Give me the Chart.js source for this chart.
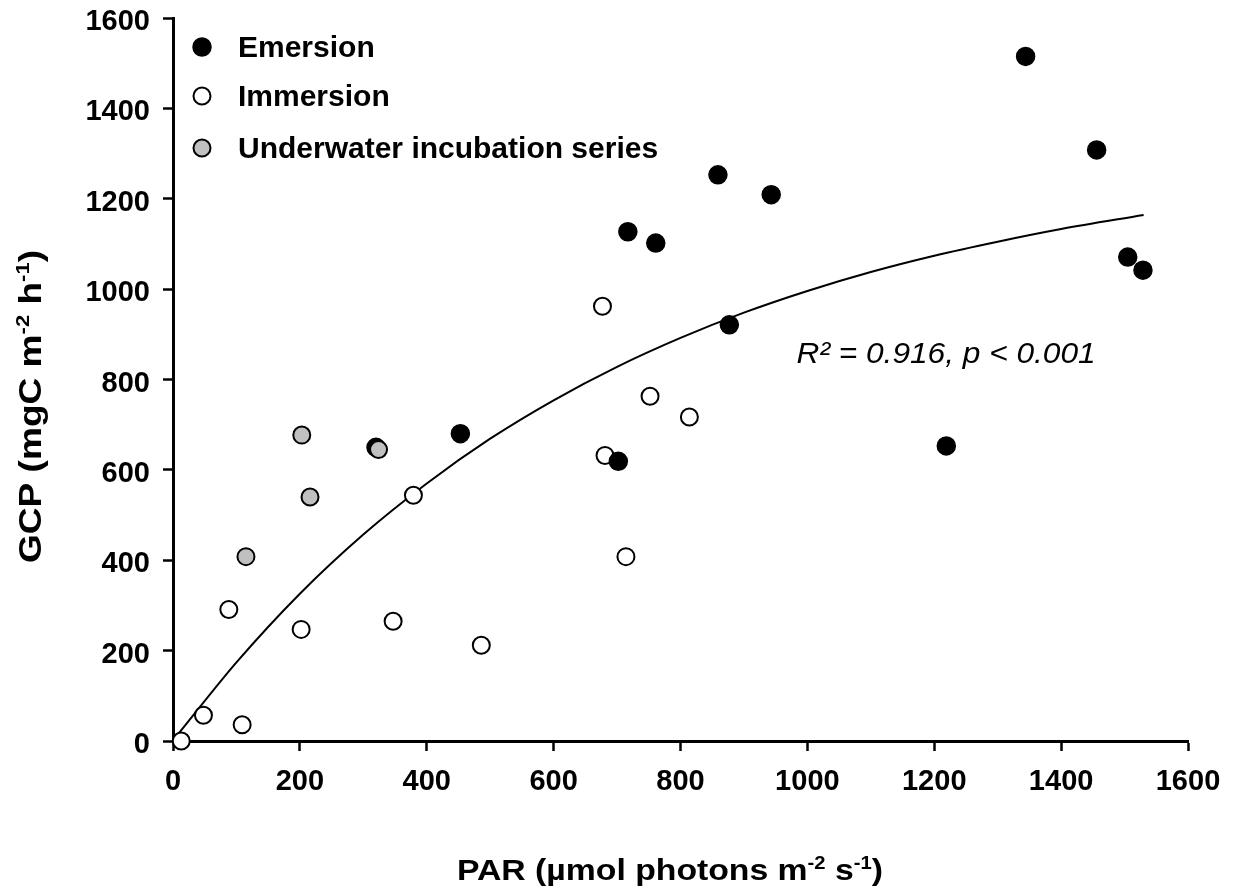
<!DOCTYPE html>
<html>
<head>
<meta charset="utf-8">
<script src="https://cdn.jsdelivr.net/npm/chart.js@4.4.1/dist/chart.umd.min.js"></script>
<style>
  html, body { margin: 0; padding: 0; background: #fff; }
  #wrap { width: 1234px; height: 888px; }
</style>
</head>
<body>
<div id="wrap"><canvas id="gcpChart" width="1234" height="888"></canvas></div>
<script>
// values
const emersionPar = [320, 453, 702, 717, 761, 859, 877, 943, 1219, 1344, 1456, 1505, 1529];
const emersionGcp = [650, 680, 619, 1127, 1102, 1253, 921, 1209, 653, 1515, 1308, 1071, 1042];
const immersionPar = [13, 48, 88, 109, 202, 347, 379, 486, 677, 681, 714, 752, 814];
const immersionGcp = [0, 57, 291, 36, 247, 265, 544, 212, 962, 632, 408, 763, 717];
const underwaterPar = [115, 203, 216, 324];
const underwaterGcp = [408, 677, 540, 645];
// fitted curve
const fitPar = [8, 100, 200, 300, 400, 500, 600, 700, 800, 900, 1000, 1100, 1200, 1300, 1400, 1530];
const fitGcp = [15, 174, 326, 457, 570, 669, 754, 828, 892, 948, 996, 1038, 1074, 1105, 1133, 1164];
const axisMin = 0, axisMax = 1600, axisStep = 200;
const seriesNames = ['Emersion', 'Immersion', 'Underwater incubation series'];
const fitLabel = 'R\u00B2 = 0.916, p < 0.001';
const fitLabelAt = [983, 837];

const FONT = "'Liberation Sans', Arial, sans-serif";

const toPoints = (xs, ys) => xs.map((x, i) => ({ x: x, y: ys[i] }));

// text with superscripts: parts = [[text, isSup], ...]
function setFont(ctx, style, size, sup) {
  ctx.font = style + ' ' + (sup ? Math.round(size * 0.6) : size) + 'px ' + FONT;
}
function richWidth(ctx, parts, style, size) {
  let w = 0;
  parts.forEach(([t, sup]) => {
    setFont(ctx, style, size, sup);
    w += ctx.measureText(t).width;
  });
  return w;
}
// draws parts starting at x0, squeezed/stretched to span the given length
function drawRich(ctx, parts, style, size, x0, baseY, span) {
  const w = richWidth(ctx, parts, style, size);
  ctx.save();
  ctx.translate(x0, baseY);
  ctx.scale(span / w, 1);
  ctx.textAlign = 'left';
  ctx.textBaseline = 'alphabetic';
  let x = 0;
  parts.forEach(([t, sup]) => {
    setFont(ctx, style, size, sup);
    ctx.fillText(t, x, sup ? -size * 0.38 : 0);
    x += ctx.measureText(t).width;
  });
  ctx.restore();
}

const extrasPlugin = {
  id: 'extras',
  afterDraw(chart) {
    const { ctx, chartArea, scales } = chart;
    ctx.save();
    ctx.fillStyle = '#000';

    // axis titles
    drawRich(ctx, [['PAR (\u00B5mol photons m', 0], ['-2', 1], [' s', 0], ['-1', 1], [')', 0]], 'bold', 30, 457, 880, 426);
    ctx.save();
    ctx.translate(41, 563);
    ctx.rotate(-Math.PI / 2);
    drawRich(ctx, [['GCP (mgC m', 0], ['-2', 1], [' h', 0], ['-1', 1], [')', 0]], 'bold', 32, 0, 0, 313);
    ctx.restore();

    // fit statistics
    drawRich(ctx, [[fitLabel, 0]], 'italic', 30,
      scales.x.getPixelForValue(fitLabelAt[0]), scales.y.getPixelForValue(fitLabelAt[1]), 299);

    // legend in upper left corner
    const rows = [29, 78, 130];
    for (let i = 0; i < 3; i++) {
      const ds = chart.data.datasets[i];
      const y = chartArea.top + rows[i];
      const x = chartArea.left + 29;
      ctx.beginPath();
      ctx.arc(x, y, ds.pointRadius, 0, Math.PI * 2);
      ctx.fillStyle = ds.backgroundColor;
      ctx.fill();
      ctx.lineWidth = ds.borderWidth;
      ctx.strokeStyle = ds.borderColor;
      ctx.stroke();
      ctx.fillStyle = '#000';
      ctx.font = 'bold 30px ' + FONT;
      ctx.textAlign = 'left';
      ctx.textBaseline = 'middle';
      ctx.fillText(ds.label, chartArea.left + 65, y + 2);
    }
    ctx.restore();
  }
};

const tickFont = { family: FONT, size: 29, weight: 'bold', lineHeight: 1.2 };

const axisCommon = {
  type: 'linear',
  min: axisMin,
  max: axisMax,
  grid: { drawOnChartArea: false, drawTicks: true, tickLength: 10, tickWidth: 2.5, tickColor: '#000' },
  border: { display: true, color: '#000', width: 3 },
  title: { display: false }
};

new Chart(document.getElementById('gcpChart'), {
  type: 'scatter',
  data: {
    datasets: [
      {
        label: seriesNames[0],
        data: toPoints(emersionPar, emersionGcp),
        backgroundColor: '#000', borderColor: '#000', borderWidth: 1.5,
        pointRadius: 9, order: 2, clip: false
      },
      {
        label: seriesNames[1],
        data: toPoints(immersionPar, immersionGcp),
        backgroundColor: '#fff', borderColor: '#000', borderWidth: 2,
        pointRadius: 8.5, order: 3, clip: false
      },
      {
        label: seriesNames[2],
        data: toPoints(underwaterPar, underwaterGcp),
        backgroundColor: '#c0c0c0', borderColor: '#000', borderWidth: 2,
        pointRadius: 8.5, order: 1, clip: false
      },
      {
        label: 'fit',
        type: 'line',
        data: toPoints(fitPar, fitGcp),
        borderColor: '#000', borderWidth: 2, pointRadius: 0,
        cubicInterpolationMode: 'monotone', fill: false, order: 4, clip: false
      }
    ]
  },
  options: {
    responsive: false,
    animation: false,
    layout: { padding: { top: 18, right: 46, left: 0, bottom: 0 } },
    plugins: { legend: { display: false }, tooltip: { enabled: false } },
    scales: {
      x: Object.assign({}, axisCommon, {
        position: 'bottom',
        ticks: { stepSize: axisStep, color: '#000', padding: 14, font: tickFont, callback: (v) => String(v) },
        afterFit: (s) => { s.height = 147; s.paddingLeft = 0; s.paddingRight = 0; }
      }),
      y: Object.assign({}, axisCommon, {
        position: 'left',
        ticks: { stepSize: axisStep, color: '#000', padding: 13, labelOffset: 4, font: tickFont, callback: (v) => String(v) },
        afterFit: (s) => { s.width = 173; s.paddingTop = 0; s.paddingBottom = 0; }
      })
    }
  },
  plugins: [extrasPlugin]
});
</script>
</body>
</html>
